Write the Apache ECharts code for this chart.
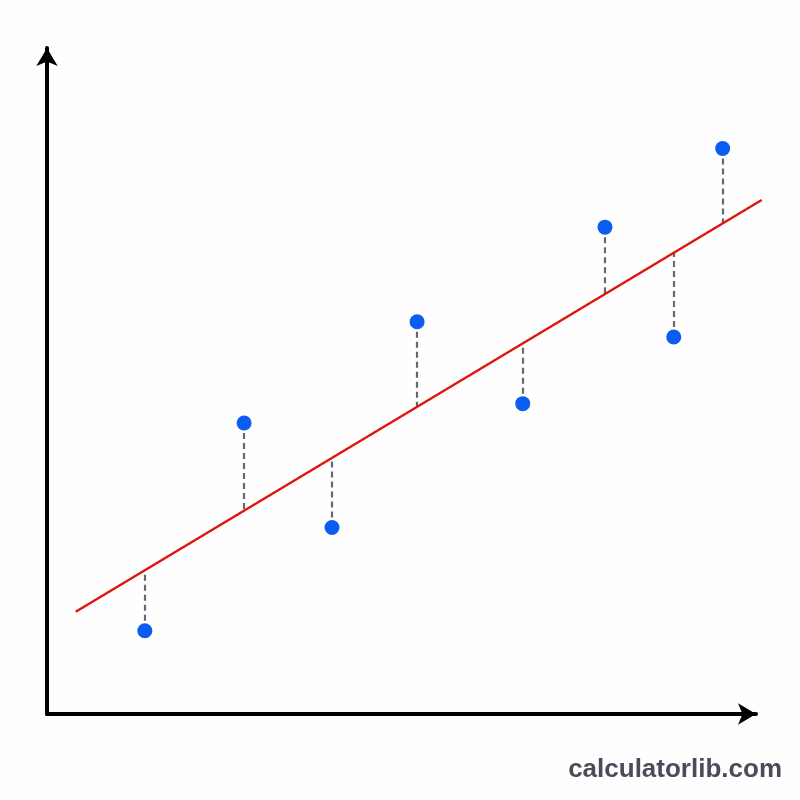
<!DOCTYPE html>
<html>
<head>
<meta charset="utf-8">
<script src="https://cdn.jsdelivr.net/npm/echarts@6/dist/echarts.min.js"></script>
<style>
  html, body { margin: 0; padding: 0; background: #fefefe; }
  #main { width: 800px; height: 800px; }
</style>
</head>
<body>
<div id="main"></div>
<script>
// observed points
var xs = [13.8, 27.8, 40.2, 52.2, 67.1, 78.7, 88.4, 95.3];
var ys = [12.5, 43.7, 28.0, 58.9, 46.6, 73.1, 56.6, 84.9];
// fitted line  y = a + b * x
var fitA = 12.77;
var fitB = 0.639;
var fitX = [4.05, 100.8];

var myChart = echarts.init(document.getElementById('main'));

var points = xs.map(function (x, i) { return [x, ys[i]]; });
var fitLine = [{ coords: fitX.map(function (x) { return [x, fitA + fitB * x]; }) }];
var residuals = xs.map(function (x, i) {
  return { coords: [[x, ys[i]], [x, fitA + fitB * x]] };
});

var axisCommon = {
  type: 'value',
  min: 0,
  max: 100,
  axisLine: {
    show: true,
    onZero: false,
    symbol: ['none', 'arrow'],
    symbolSize: [16, 18],
    lineStyle: { color: '#000', width: 4 }
  },
  axisTick: { show: false },
  axisLabel: { show: false },
  splitLine: { show: false }
};

var option = {
  backgroundColor: '#fefefe',
  animation: false,
  grid: { left: 47, right: 44, top: 48, bottom: 86 },
  xAxis: axisCommon,
  yAxis: axisCommon,
  series: [
    {
      // 残差虚线
      type: 'lines',
      coordinateSystem: 'cartesian2d',
      data: residuals,
      lineStyle: { color: '#65686d', width: 2.2, type: [6, 4], opacity: 1 },
      z: 1
    },
    {
      // 回归线
      type: 'lines',
      coordinateSystem: 'cartesian2d',
      data: fitLine,
      clip: false,
      lineStyle: { color: '#e2150e', width: 2.5, opacity: 1 },
      z: 2
    },
    {
      type: 'scatter',
      data: points,
      symbolSize: 15,
      itemStyle: { color: '#0b5cf2', opacity: 1 },
      z: 3
    }
  ],
  graphic: [{
    type: 'text',
    right: 18,
    top: 757,
    style: {
      text: 'calculatorlib.com',
      font: 'bold 26px "Liberation Sans", Arial, sans-serif',
      fill: '#484d58'
    }
  }]
};
myChart.setOption(option);
</script>
</body>
</html>
